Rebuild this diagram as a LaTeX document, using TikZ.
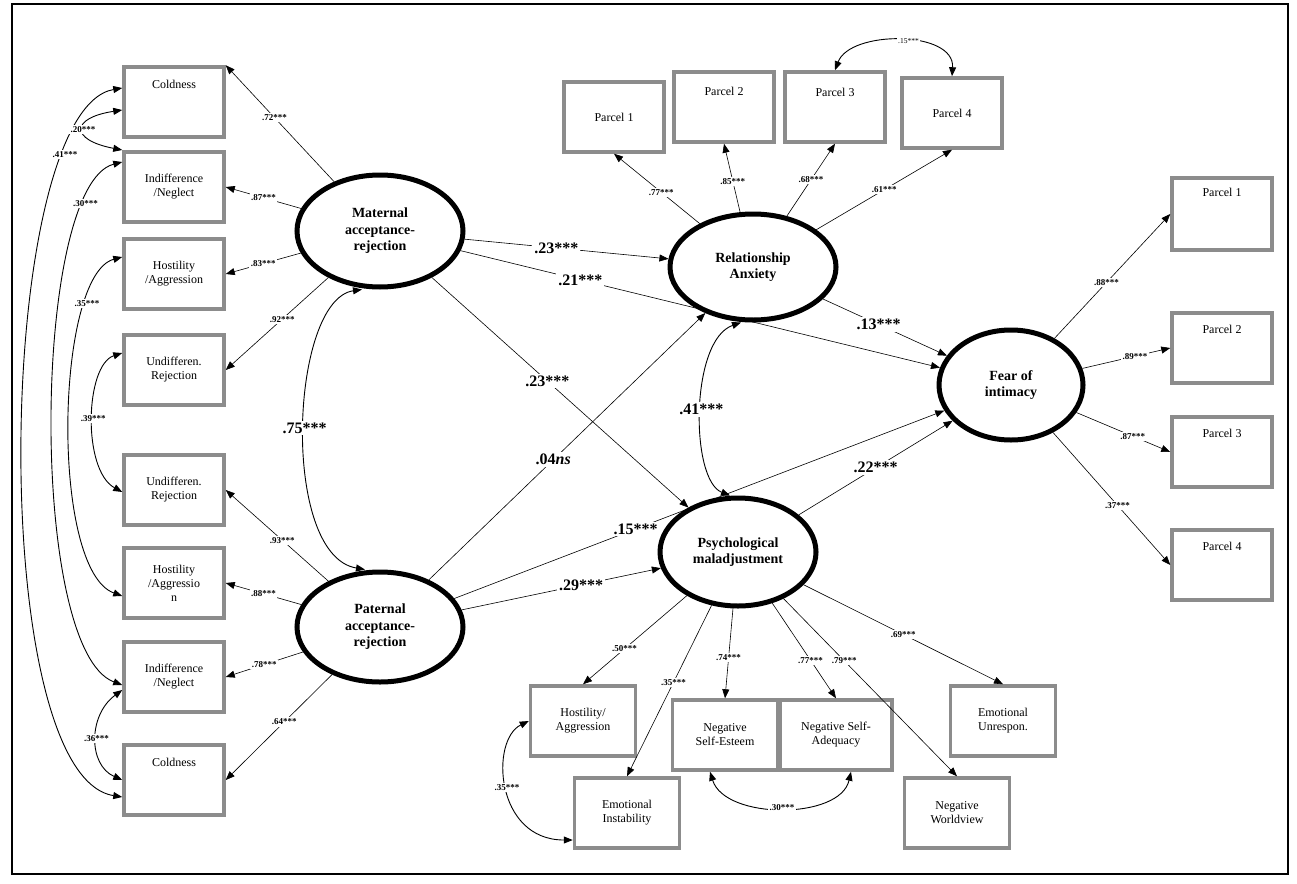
\documentclass[tikz,border=0pt]{standalone}
\usepackage{fontspec}
\setmainfont{Liberation Serif}
\usetikzlibrary{shapes.geometric,arrows.meta,calc}
\begin{document}
\begin{tikzpicture}[x=1pt,y=-1pt,
 box/.style={draw=black!45,line width=3.5pt,fill=white,minimum width=#1,align=center,font=\fontsize{12}{14}\selectfont,inner sep=2pt},
 box/.default=100pt,
 lat/.style={draw,ellipse,line width=5pt,fill=white,align=center,inner sep=0pt,font=\bfseries\fontsize{14}{16.5}\selectfont},
 arr/.style={-{Triangle[length=9pt,width=7pt]},line width=0.6pt},
 dbl/.style={{Triangle[length=9pt,width=7pt]}-{Triangle[length=9pt,width=7pt]},line width=0.9pt},
 sl/.style={fill=white,inner sep=1.5pt,font=\bfseries\fontsize{9}{10}\selectfont},
 bl/.style={fill=white,inner sep=2pt,font=\bfseries\fontsize{16}{18}\selectfont},
]
\useasboundingbox (0,0) rectangle (1297,883);
\draw[line width=1.5pt] (12,4) rectangle (1288,874);
% left boxes
\node[box,minimum height=70pt] (mc) at (174,102) {Coldness\\[22pt]};
\node[box,minimum height=70pt] (mi) at (174,187) {Indifference\\/Neglect};
\node[box,minimum height=70pt] (mh) at (174,274) {Hostility\\/Aggression};
\node[box,minimum height=70pt] (mu) at (174,370) {Undifferen.\\Rejection};
\node[box,minimum height=70pt] (pu) at (174,490) {Undifferen.\\Rejection};
\node[box,minimum height=70pt] (ph) at (174,583) {Hostility\\/Aggressio\\n};
\node[box,minimum height=70pt] (pi) at (174,677) {Indifference\\/Neglect};
\node[box,minimum height=70pt] (pc) at (174,780) {Coldness\\[22pt]};
% top parcels
\node[box,minimum height=70pt] (r1) at (614,117) {Parcel 1};
\node[box,minimum height=70pt] (r2) at (724,107) {Parcel 2\\[18pt]};
\node[box,minimum height=70pt] (r3) at (835,107) {Parcel 3\\[16pt]};
\node[box,minimum height=70pt] (r4) at (952,113) {Parcel 4};
% right parcels
\node[box,minimum height=72pt] (f1) at (1222,214) {Parcel 1\\[30pt]};
\node[box,minimum height=70pt] (f2) at (1222,348) {Parcel 2\\[24pt]};
\node[box,minimum height=70pt] (f3) at (1222,452) {Parcel 3\\[24pt]};
\node[box,minimum height=70pt] (f4) at (1222,565) {Parcel 4\\[24pt]};
% bottom
\node[box=105pt,minimum height=70pt] (bh) at (583,721) {Hostility/\\Aggression};
\node[box=105pt,minimum height=70pt] (be) at (627,813) {Emotional\\Instability};
\node[box=105pt,minimum height=70pt] (bs) at (725,735) {Negative\\Self-Esteem};
\node[box=112pt,minimum height=70pt] (ba) at (836,735) {Negative Self-\\Adequacy};
\node[box=105pt,minimum height=70pt] (bu) at (1003,721) {Emotional\\Unrespon.};
\node[box=105pt,minimum height=70pt] (bw) at (957,813) {Negative\\Worldview};
% latents
\node[lat,minimum width=166pt,minimum height=112pt] (mat) at (380,231) {Maternal\\acceptance-\\rejection};
\node[lat,minimum width=166pt,minimum height=110pt] (pat) at (380,627) {Paternal\\acceptance-\\rejection};
\node[lat,minimum width=166pt,minimum height=106pt] (ra) at (753,267) {Relationship\\Anxiety};
\node[lat,minimum width=156pt,minimum height=108pt] (pm) at (738,552) {Psychological\\maladjustment};
\node[lat,minimum width=144pt,minimum height=110pt] (fi) at (1011,385) {Fear of\\intimacy};
% loadings maternal / paternal
\draw[arr] (mat) -- (mc.north east) node[sl,pos=0.55] {.72***};
\draw[arr] (mat) -- (mi.east) node[sl,pos=0.5] {.87***};
\draw[arr] (mat) -- (mh.east) node[sl,pos=0.5] {.83***};
\draw[arr] (mat) -- (mu.east) node[sl,pos=0.45] {.92***};
\draw[arr] (pat) -- (pu.east) node[sl,pos=0.45] {.93***};
\draw[arr] (pat) -- (ph.east) node[sl,pos=0.5] {.88***};
\draw[arr] (pat) -- (pi.east) node[sl,pos=0.5] {.78***};
\draw[arr] (pat) -- (pc.east) node[sl,pos=0.45] {.64***};
% left correlations
\draw[dbl] (mc.west|-0,88) .. controls (-5,110) and (-15,775) .. (pc.west|-0,797) node[sl,pos=0.18] {.41***};
\draw[dbl] (mi.west|-0,162) .. controls (32,185) and (28,650) .. (pi.west|-0,685) node[sl,pos=0.16] {.30***};
\draw[dbl] (mh.west|-0,257) .. controls (55,275) and (50,570) .. (ph.west|-0,596) node[sl,pos=0.22] {.35***};
\draw[dbl] (mu.west|-0,353) .. controls (85,365) and (82,470) .. (pu.west|-0,492) node[sl,pos=0.5] {.39***};
\draw[dbl] (mc.west|-0,110) .. controls (70,118) and (70,140) .. (mi.west|-0,150) node[sl,pos=0.5] {.20***};
\draw[dbl] (pi.west|-0,690) .. controls (88,715) and (88,765) .. (pc.west|-0,780) node[sl,pos=0.5] {.36***};
% latent correlations
\draw[dbl] ($(mat.south)+(-18,0)$) .. controls (290,300) and (280,555) .. ($(pat.north)+(-15,0)$) node[bl,pos=0.5] {.75***};
\draw[dbl] ($(ra.south)+(-12,0)$) .. controls (690,340) and (690,480) .. ($(pm.north)+(-8,0)$) node[bl,pos=0.5] {.41***};
% structural paths
\draw[arr] (mat) -- (ra) node[bl,pos=0.45] {.23***};
\draw[arr] (mat) -- (fi) node[bl,pos=0.25] {.21***};
\draw[arr] (mat) -- (pm) node[bl,pos=0.45] {.23***};
\draw[arr] (pat) -- (ra) node[bl,pos=0.45] {.04\emph{ns}};
\draw[arr] (pat) -- (fi) node[bl,pos=0.37] {.15***};
\draw[arr] (pat) -- (pm) node[bl,pos=0.6] {.29***};
\draw[arr] (ra) -- (fi) node[bl,pos=0.45] {.13***};
\draw[arr] (pm) -- (fi) node[bl,pos=0.5] {.22***};
% relationship anxiety loadings
\draw[arr] (ra) -- (r1.south) node[sl,pos=0.45] {.77***};
\draw[arr] (ra) -- (r2.south) node[sl,pos=0.45] {.85***};
\draw[arr] (ra) -- (r3.south) node[sl,pos=0.5] {.68***};
\draw[arr] (ra) -- (r4.south) node[sl,pos=0.5] {.61***};
\draw[dbl] (r3.north) .. controls (850,30) and (955,30) .. (r4.north) node[sl,pos=0.55,font=\fontsize{7.5}{8}\selectfont] {.15***};
% fear loadings
\draw[arr] (fi) -- (f1.west) node[sl,pos=0.45] {.88***};
\draw[arr] (fi) -- (f2.west) node[sl,pos=0.6] {.89***};
\draw[arr] (fi) -- (f3.west) node[sl,pos=0.6] {.87***};
\draw[arr] (fi) -- (f4.west) node[sl,pos=0.55] {.37***};
% psych loadings
\draw[arr] (pm) -- (bh.north) node[sl,pos=0.6] {.50***};
\draw[arr] (pm) -- (be.north) node[sl,pos=0.45] {.35***};
\draw[arr] (pm) -- (bs.north) node[sl,pos=0.55] {.74***};
\draw[arr] (pm) -- (ba.north) node[sl,pos=0.6] {.77***};
\draw[arr] (pm) -- (bw.north) node[sl,pos=0.35] {.79***};
\draw[arr] (pm) -- (bu.north) node[sl,pos=0.5] {.69***};
% bottom correlations
\draw[dbl] (bh.west) .. controls (490,740) and (495,840) .. (be.west|-0,840) node[sl,pos=0.5] {.35***};
\draw[dbl] ($(bs.south)+(-15,0)$) .. controls (725,820) and (840,820) .. ($(ba.south)+(15,0)$) node[sl,pos=0.5] {.30***};
\end{tikzpicture}
\end{document}
